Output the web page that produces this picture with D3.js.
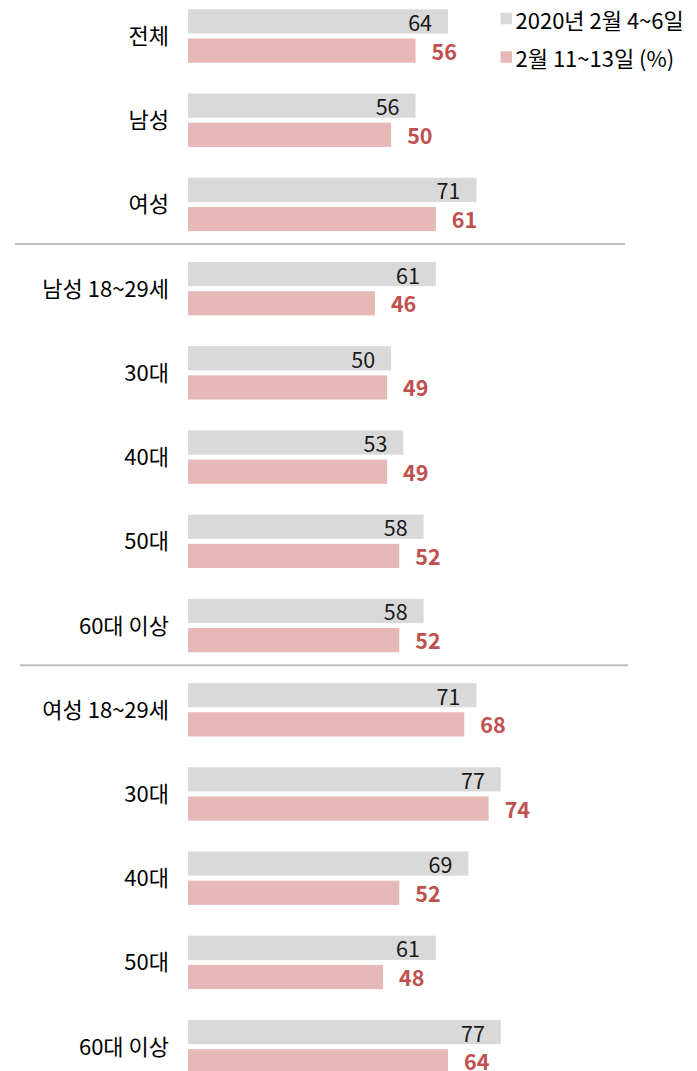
<!DOCTYPE html>
<html><head><meta charset="utf-8">
<script src="https://cdn.jsdelivr.net/npm/d3@7"></script>
<style>
html,body{margin:0;padding:0;background:#fff;}
svg{display:block;font-family:"Noto Sans CJK KR","Noto Sans",sans-serif;}
</style></head>
<body>
<svg id="chart" width="697" height="1071"></svg>
<script>
const categories = ["전체","남성","여성","남성 18~29세","30대","40대","50대","60대 이상","여성 18~29세","30대","40대","50대","60대 이상"];
const seriesNames = ["2020년 2월 4~6일","2월 11~13일 (%)"];
const valuesFeb4 = [64,56,71,61,50,53,58,58,71,77,69,61,77];
const valuesFeb11 = [56,50,61,46,49,49,52,52,68,74,52,48,64];
const separatorsAfter = [2,7];

const colors = ["#d9d9d9","#e6b8b7"];
const labelColors = ["#1a1a1a","#c0504d"];

const svg = d3.select("#chart");
const x = d3.scaleLinear().domain([0,100]).range([188, 594.3]);
const y = d3.scaleBand().domain(d3.range(categories.length))
  .range([9.3, 9.3 + 12*84.22 + 53.4]).paddingInner(0.366).paddingOuter(0);
const inner = d3.scaleBand().domain([0,1]).range([0, y.bandwidth()]).paddingInner(0.17);

const data = categories.map((c,i)=>({i, c, v:[valuesFeb4[i], valuesFeb11[i]]}));

const g = svg.append("g");
const groups = g.selectAll("g.grp").data(data).join("g").attr("class","grp")
  .attr("transform", d=>`translate(0,${y(d.i)})`);

groups.selectAll("rect").data(d=>d.v.map((v,s)=>({v,s}))).join("rect")
  .attr("x", x(0)).attr("y", d=>inner(d.s))
  .attr("width", d=>x(d.v)-x(0)).attr("height", inner.bandwidth())
  .attr("fill", d=>colors[d.s]);

groups.selectAll("text.val").data(d=>d.v.map((v,s)=>({v,s}))).join("text")
  .attr("class","val")
  .attr("x", d=> d.s===0 ? x(d.v)-16 : x(d.v)+16)
  .attr("y", d=>inner(d.s)+inner.bandwidth()/2 - (d.s===1 ? 0.5 : 0))
  .attr("text-anchor", d=> d.s===0 ? "end" : "start")
  .attr("dominant-baseline","central")
  .attr("font-size", 21.5)
  .attr("font-weight", d=> d.s===1 ? 600 : 400)
  .attr("fill", d=>labelColors[d.s])
  .text(d=>d.v);

groups.append("text")
  .attr("x", 169).attr("y", y.bandwidth()/2 - 2)
  .attr("text-anchor","end").attr("dominant-baseline","central")
  .attr("font-size", 22).attr("fill","#000")
  .text(d=>d.c);

separatorsAfter.forEach((k,j)=>{
  const yy = (y(k)+y.bandwidth()+y(k+1))/2 - 2.5;
  svg.append("line").attr("x1", j===0?15:20).attr("x2", j===0?625:628)
    .attr("y1", yy).attr("y2", yy)
    .attr("stroke","#c0c0c0").attr("stroke-width",2);
});

const legY = [18.5, 57];
seriesNames.forEach((n,s)=>{
  svg.append("rect").attr("x",500.5).attr("y",legY[s]-5.7).attr("width",11.5).attr("height",11.5).attr("fill",colors[s]);
  svg.append("text").attr("x",515.5).attr("y",legY[s]).attr("dominant-baseline","central")
    .attr("font-size",22).attr("fill","#000").text(n);
});
</script>
</body></html>
